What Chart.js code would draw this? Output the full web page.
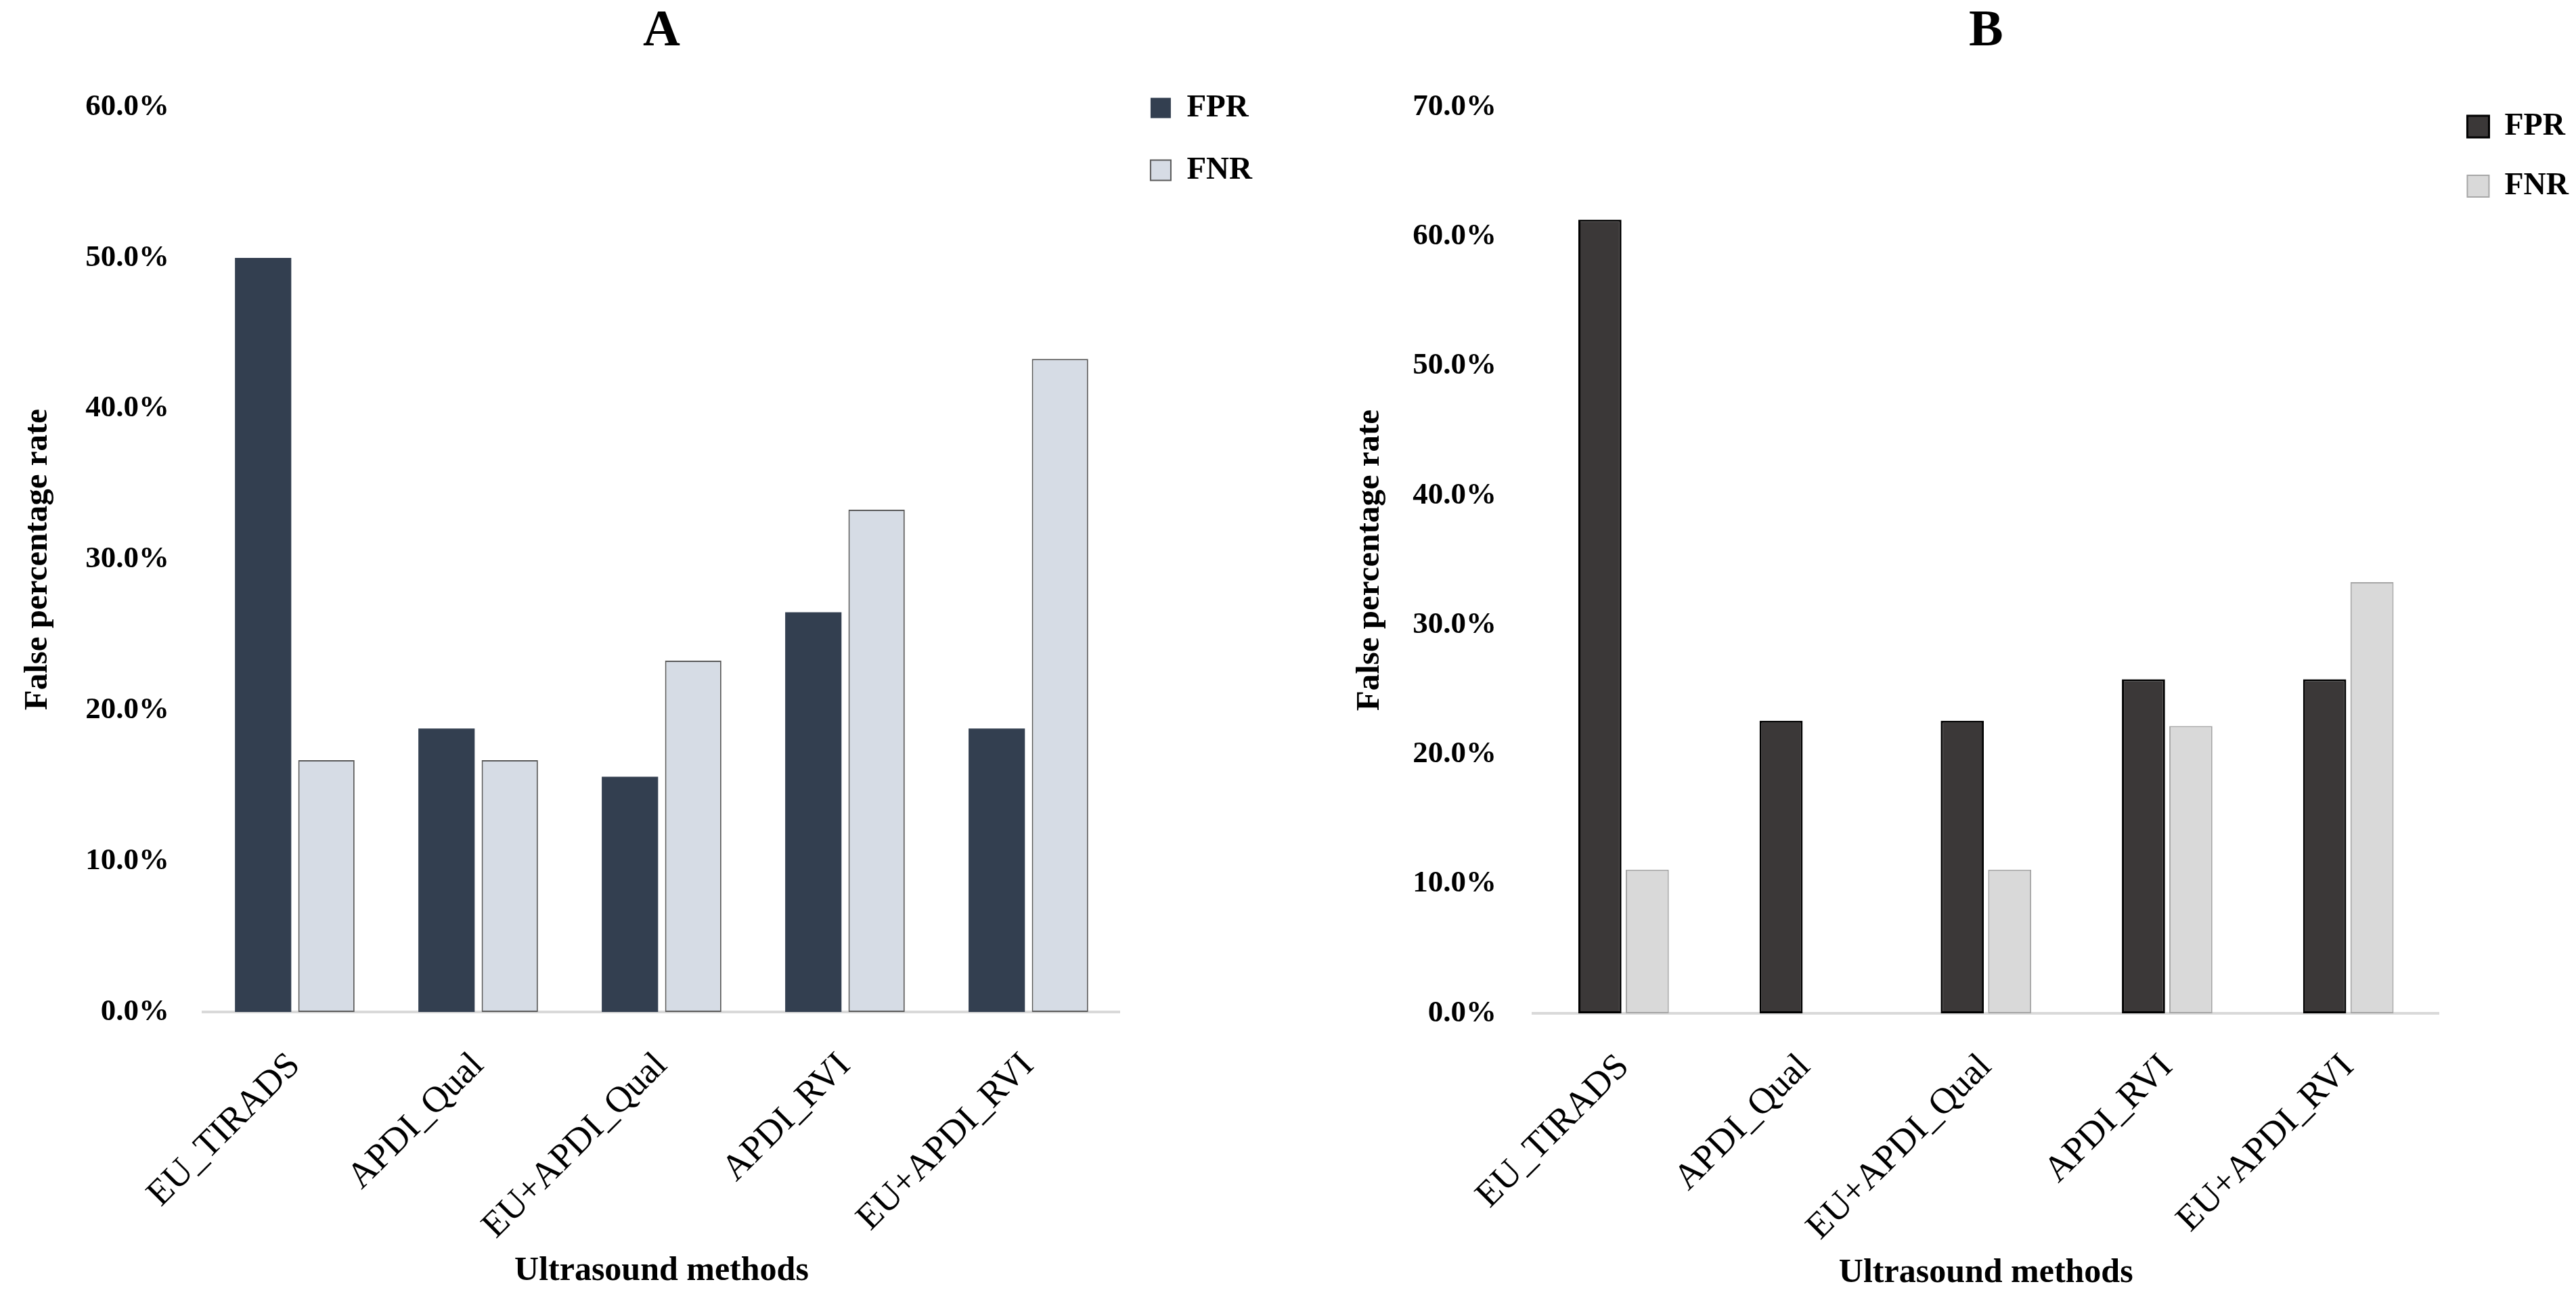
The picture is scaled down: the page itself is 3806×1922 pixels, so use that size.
<!DOCTYPE html>
<html lang="en">
<head>
<meta charset="UTF-8" />
<title>False percentage rate by ultrasound method</title>
<script src="https://cdn.jsdelivr.net/npm/chart.js"></script>
<style>
  html, body { margin: 0; padding: 0; background: #fff; overflow: hidden; }
  body { width: 3806px; height: 1922px; position: relative; }
  canvas { position: absolute; top: 0; }
  #chartA { left: 0; }
  #chartB { left: 1975px; }
</style>
</head>
<body>
<canvas id="chartA" width="1916" height="1922"></canvas>
<canvas id="chartB" width="1880" height="1922"></canvas>

<script>
// values, in percent
const methods = ['EU_TIRADS', 'APDI_Qual', 'EU+APDI_Qual', 'APDI_RVI', 'EU+APDI_RVI'];
const seriesNames = ['FPR', 'FNR'];
const fprA = [50.0, 18.8, 15.6, 26.5, 18.8];
const fnrA = [16.7, 16.7, 23.3, 33.3, 43.3];
const fprB = [61.3, 22.6, 22.6, 25.8, 25.8];
const fnrB = [11.1, 0, 11.1, 22.2, 33.3];
const yMaxA = 60;
const yMaxB = 70;
const yStep = 10;

const serif = "'Liberation Serif', 'Times New Roman', serif";
Chart.defaults.color = '#000';
Chart.defaults.font.family = serif;

function drawPanel(id, o) {
  new Chart(document.getElementById(id), {
    type: 'bar',
    data: {
      labels: methods,
      datasets: [{
        label: seriesNames[0],
        data: o.fpr,
        backgroundColor: o.fprColor,
        borderColor: o.fprBorder,
        borderWidth: o.fprBorderWidth,
        borderSkipped: false,
        barPercentage: o.barPct,
        categoryPercentage: o.catPct
      }, {
        label: seriesNames[1],
        data: o.fnr,
        backgroundColor: o.fnrColor,
        borderColor: o.fnrBorder,
        borderWidth: 2,
        borderSkipped: false,
        barPercentage: o.barPct,
        categoryPercentage: o.catPct
      }]
    },
    options: {
      responsive: false,
      animation: false,
      devicePixelRatio: 1,
      layout: { padding: { top: 0, left: 0, bottom: 0, right: o.padRight } },
      plugins: {
        tooltip: { enabled: false },
        title: {
          display: true,
          fullSize: false,
          text: o.title,
          font: { size: 76, weight: 'bold' },
          padding: { top: 2, bottom: 65 }
        },
        legend: {
          position: 'right',
          align: 'start',
          title: { display: true, text: '', font: { size: 10 }, padding: { top: o.legendOffset, bottom: 0 } },
          labels: {
            font: { size: o.legendFont, weight: 'bold' },
            boxWidth: o.legendBox,
            boxHeight: o.legendBox,
            padding: o.legendPad
          }
        }
      },
      scales: {
        x: {
          grid: { display: false, drawTicks: false },
          border: { display: true, color: '#d9d9d9', width: 4 },
          ticks: { autoSkip: false, minRotation: 45, maxRotation: 45, padding: 48, font: { size: 54 } },
          title: {
            display: true,
            text: 'Ultrasound methods',
            font: { size: 50, weight: 'bold' },
            padding: { top: 0, bottom: o.xTitlePad }
          },
          afterFit: s => { s.height = o.xHeight; }
        },
        y: {
          min: 0,
          max: o.yMax,
          grid: { display: false, drawTicks: false },
          border: { display: false },
          ticks: {
            stepSize: yStep,
            padding: o.yTickPad,
            font: { size: 45, weight: 'bold' },
            callback: v => v.toFixed(1) + '%'
          },
          title: {
            display: true,
            text: 'False percentage rate',
            font: { size: 49, weight: 'bold' },
            padding: { top: o.yTitlePad, bottom: 0 }
          },
          afterFit: s => { s.width = o.yWidth; }
        }
      }
    }
  });
}

drawPanel('chartA', {
  title: 'A', fpr: fprA, fnr: fnrA, yMax: yMaxA,
  fprColor: '#333f50', fprBorder: '#333f50', fprBorderWidth: 0,
  fnrColor: '#d6dce5', fnrBorder: '#595959',
  barPct: 0.89, catPct: 0.69,
  padRight: 56, legendOffset: 79, legendFont: 47, legendBox: 30, legendPad: 45,
  xHeight: 427, xTitlePad: 14, yWidth: 300, yTickPad: 50, yTitlePad: 27
});

drawPanel('chartB', {
  title: 'B', fpr: fprB, fnr: fnrB, yMax: yMaxB,
  fprColor: '#3b3838', fprBorder: '#000000', fprBorderWidth: 3,
  fnrColor: '#d9d9d9', fnrBorder: '#a6a6a6',
  barPct: 0.91, catPct: 0.523,
  padRight: 50, legendOffset: 110, legendFont: 46, legendBox: 32, legendPad: 42,
  xHeight: 425, xTitlePad: 11, yWidth: 290, yTickPad: 54, yTitlePad: 20
});
</script>
</body>
</html>
